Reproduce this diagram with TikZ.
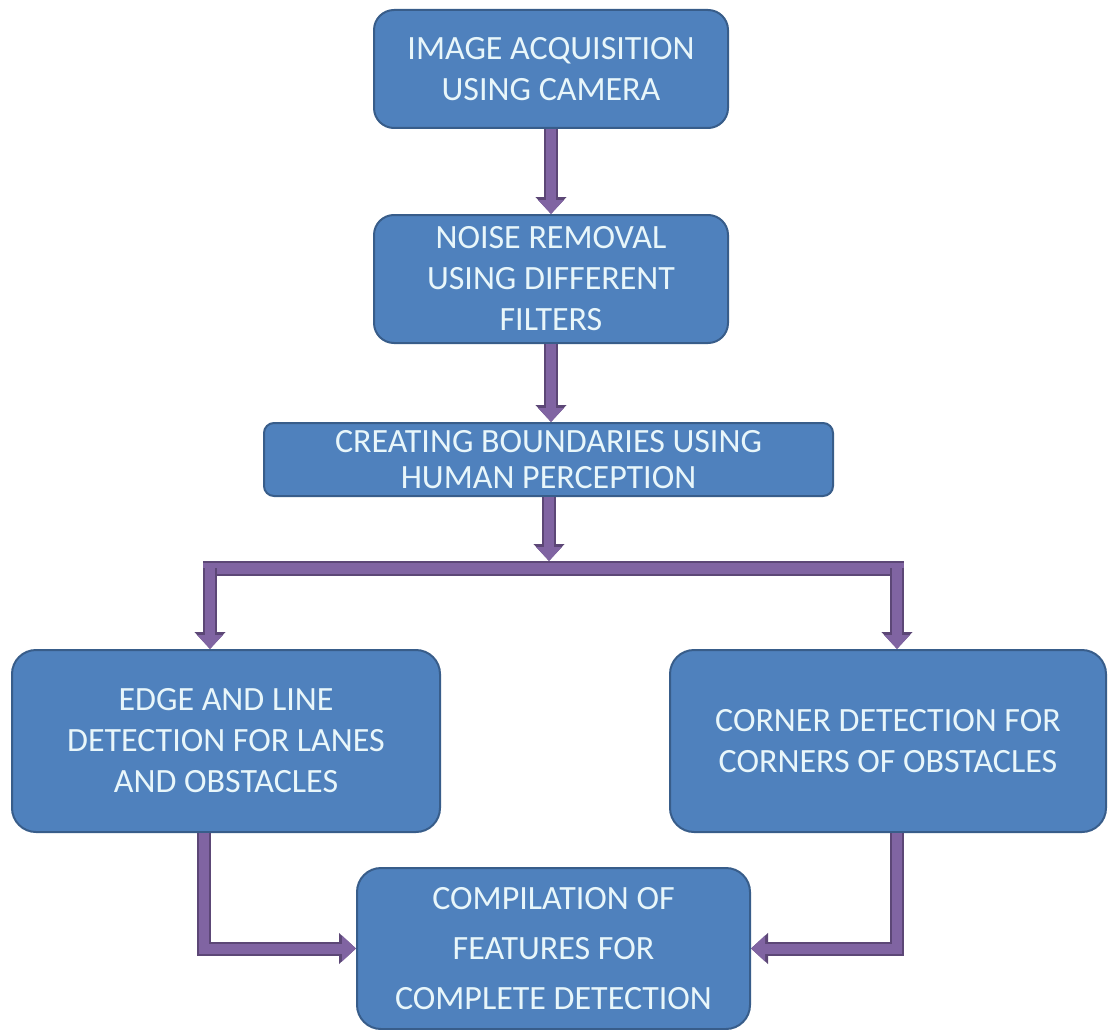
\documentclass[tikz,border=0pt]{standalone}
\usepackage{fontspec}
\setmainfont{Carlito}
\usetikzlibrary{arrows.meta}
\definecolor{boxfill}{RGB}{79,129,189}
\definecolor{boxedge}{RGB}{56,93,138}
\definecolor{boxtext}{RGB}{232,246,250}
\definecolor{flowfill}{RGB}{128,100,162}
\definecolor{flowedge}{RGB}{92,71,118}
\tikzset{
  box/.style={draw=boxedge, line width=2pt, fill=boxfill, text=boxtext,
    rounded corners=20pt, inner sep=0pt, align=center,
    font=\fontsize{34}{41}\selectfont},
  flow/.style={line join=miter,
    preaction={draw=flowedge, line width=14pt, -{Triangle[width=30pt,length=17pt]}},
    draw=flowfill, line width=10pt, -{Triangle[width=25pt,length=14pt]}},
  bar/.style={line cap=butt, preaction={draw=flowedge, line width=15pt},
    draw=flowfill, line width=11pt},
}
\begin{document}
\begin{tikzpicture}[x=1pt,y=-1pt]
\useasboundingbox (0,0) rectangle (1114,1030);

% process steps
\node[box, minimum width=354pt, minimum height=118pt] (b1) at (551,69)
  {IMAGE ACQUISITION\\USING CAMERA};
\node[box, minimum width=354pt, minimum height=128pt] (b2) at (551,279)
  {NOISE REMOVAL\\USING DIFFERENT\\FILTERS};
\node[box, minimum width=569pt, minimum height=73pt, rounded corners=10pt,
      font=\fontsize{34}{36}\selectfont] (b3) at (548.5,459.5)
  {CREATING BOUNDARIES USING\\HUMAN PERCEPTION};
\node[box, minimum width=428pt, minimum height=182pt, rounded corners=24pt] (b4) at (226,741)
  {EDGE AND LINE\\DETECTION FOR LANES\\AND OBSTACLES};
\node[box, minimum width=436pt, minimum height=182pt, rounded corners=24pt] (b5) at (888,741)
  {CORNER DETECTION FOR\\CORNERS OF OBSTACLES};
\node[box, minimum width=393pt, minimum height=161pt, rounded corners=24pt,
      font=\fontsize{34}{50}\selectfont] (b6) at (553.5,948.5)
  {COMPILATION OF\\FEATURES FOR\\COMPLETE DETECTION};

% split bar and branch points
\coordinate (barL) at (203,568);
\coordinate (barR) at (904,568);
\coordinate (split) at (549,561);
\coordinate (brL) at (210,568);
\coordinate (brR) at (897,568);
\coordinate (dl) at (204,948);
\coordinate (dr) at (897,948);

% connectors
\draw[flow] (b1.south) -- (b2.north);
\draw[flow] (b2.south) -- (b2.south |- b3.north);
\draw[bar] (barL) -- (barR);
\draw[flow] (b3.south -| split) -- (split);
\draw[flow] (brL) -- (brL |- b4.north);
\draw[flow] (brR) -- (brR |- b5.north);
\draw[flow] (b4.south -| dl) |- (b6.west);
\draw[flow] (b5.south -| dr) |- (b6.east);
\end{tikzpicture}
\end{document}
